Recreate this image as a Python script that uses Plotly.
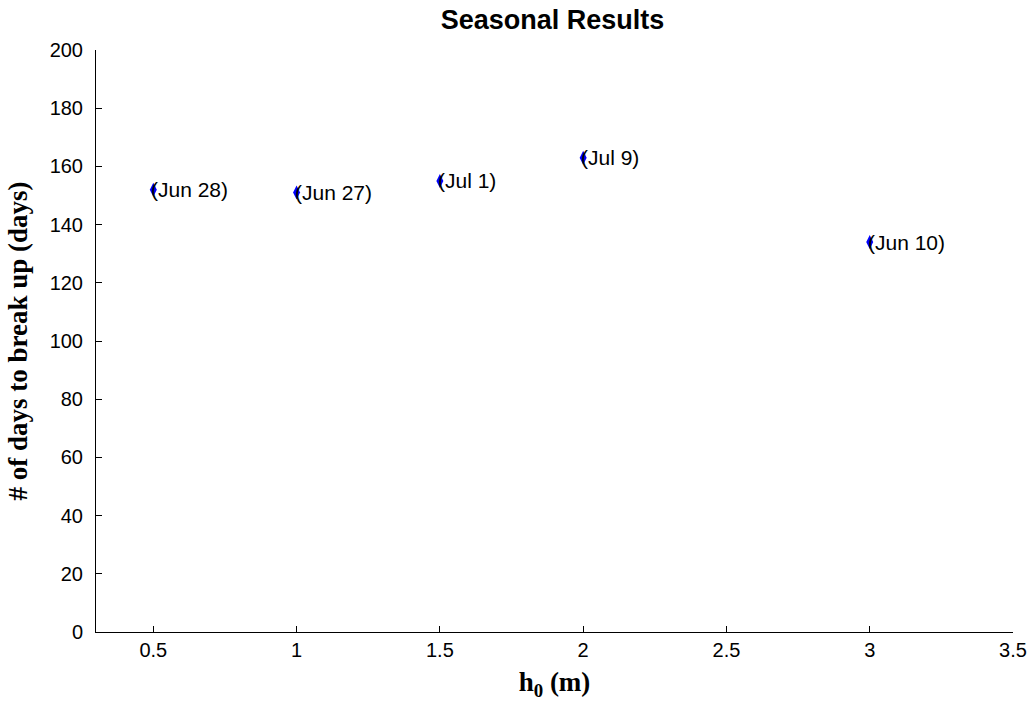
import plotly.graph_objects as go

h0 = [0.5, 1.0, 1.5, 2.0, 3.0]
days = [152, 151, 155, 163, 134]
labels = ["(Jun 28)", "(Jun 27)", "(Jul 1)", "(Jul 9)", "(Jun 10)"]

SANS = "Liberation Sans, Arial"
SERIF = "Liberation Serif, Times New Roman"

fig = go.Figure()
fig.add_trace(go.Scatter(
    x=h0, y=days, mode="markers",
    marker=dict(symbol="diamond-tall", size=10, color="#0000ff"),
    showlegend=False, hoverinfo="x+y"))

for x, y, t in zip(h0, days, labels):
    fig.add_annotation(x=x, y=y, text=t, showarrow=False, xanchor="left",
                       yanchor="middle", xshift=-4,
                       font=dict(family=SANS, size=21, color="#000"))

fig.update_layout(
    width=1029, height=706,
    paper_bgcolor="white", plot_bgcolor="white",
    margin=dict(l=96, r=16, t=50, b=74),
    title=dict(text="<b>Seasonal Results</b>", x=0.537, xanchor="center",
               y=0.972, yanchor="middle", yref="container",
               font=dict(family=SANS, size=27, color="#000")),
    font=dict(family=SANS, size=20, color="#000"),
)
fig.update_xaxes(range=[0.3, 3.5], tickvals=[0.5, 1, 1.5, 2, 2.5, 3, 3.5],
                 ticktext=["0.5", "1", "1.5", "2", "2.5", "3", "3.5"],
                 showline=True, linecolor="#000", linewidth=1, mirror=False,
                 ticks="inside", ticklen=6, tickcolor="#000", showgrid=False,
                 zeroline=False, tickfont=dict(family=SANS, size=20),
                 ticklabelstandoff=0, automargin=False,
                 title=dict(text="<b>h<sub>0</sub> (m)</b>", standoff=12,
                            font=dict(family=SERIF, size=27)))
fig.update_yaxes(range=[0, 200], tickvals=list(range(0, 201, 20)),
                 showline=True, linecolor="#000", linewidth=1, mirror=False,
                 ticks="inside", ticklen=6, tickcolor="#000", showgrid=False,
                 zeroline=False, tickfont=dict(family=SANS, size=20),
                 ticklabelstandoff=8, automargin=False,
                 title=dict(text="<b># of days to break up (days)</b>", standoff=14,
                            font=dict(family=SERIF, size=27)))

fig.write_html("out.html",
               config={"displayModeBar": False},
               post_script="document.body.style.margin='0';"
                           "document.body.style.overflow='hidden';")
